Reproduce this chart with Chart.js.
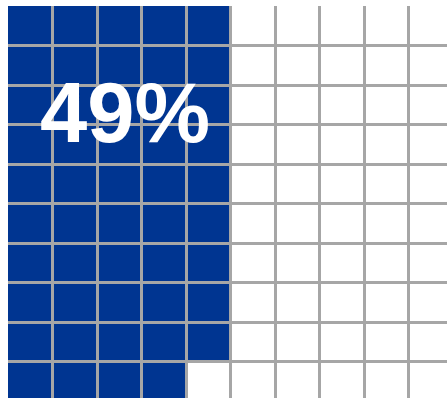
<!DOCTYPE html>
<html>
<head>
<meta charset="utf-8">
<script src="https://cdn.jsdelivr.net/npm/chart.js@4/dist/chart.umd.min.js"></script>
<style>
  html, body { margin: 0; padding: 0; background: #ffffff; overflow: hidden; }
  #wrap { position: absolute; left: 0; top: 0; width: 456px; height: 404px; }
</style>
</head>
<body>
<div id="wrap"><canvas id="c" width="456" height="404"></canvas></div>
<script>
// Waffle: 10 columns x 10 rows, filled column by column from the top
const columns = ['1', '2', '3', '4', '5', '6', '7', '8', '9', '10'];
const filledCells = [10, 10, 10, 10, 9, 0, 0, 0, 0, 0];   // filled cells per column (49 total)
const percentLabel = '49%';
const rowCount = 10;

const BLUE = '#003591';
const GRID = '#a6a6a6';

const labelPlugin = {
  id: 'percentLabel',
  afterDraw(chart) {
    const ctx = chart.ctx;
    ctx.save();
    ctx.fillStyle = '#ffffff';
    ctx.font = 'bold 85px "Liberation Sans", Arial, sans-serif';
    ctx.textAlign = 'center';
    ctx.textBaseline = 'alphabetic';
    ctx.fillText(percentLabel, 125, 142);
    ctx.restore();
  }
};

new Chart(document.getElementById('c'), {
  type: 'bar',
  data: {
    labels: columns,
    datasets: [{
      data: filledCells.map(v => (v > 0 ? [0, v] : null)),
      backgroundColor: BLUE,
      borderWidth: 0,
      barPercentage: 1,
      categoryPercentage: 1
    }]
  },
  options: {
    responsive: false,
    animation: false,
    layout: { padding: { left: 8, top: 6, right: 3, bottom: 3 } },
    plugins: { legend: { display: false }, tooltip: { enabled: false } },
    scales: {
      x: {
        offset: true,
        ticks: { display: false },
        border: { display: false },
        grid: {
          offset: true,
          z: 1,
          drawTicks: false,
          color: GRID,
          lineWidth: ctx => (ctx.index === 0 ? 0 : 3)
        }
      },
      y: {
        min: 0,
        max: rowCount,
        reverse: true,
        ticks: { display: false, stepSize: 1 },
        border: { display: false },
        grid: {
          z: 1,
          drawTicks: false,
          color: GRID,
          lineWidth: ctx => (ctx.tick && ctx.tick.value === 0 ? 0 : 3)
        }
      }
    }
  },
  plugins: [labelPlugin]
});
</script>
</body>
</html>
